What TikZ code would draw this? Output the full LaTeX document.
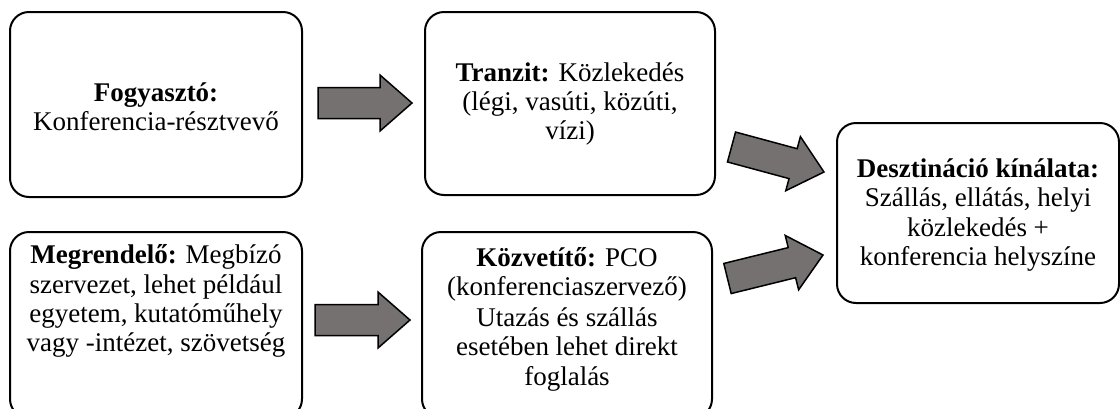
\documentclass[tikz,border=0pt]{standalone}
\usepackage{fontspec}
\setmainfont{Liberation Serif}
\usetikzlibrary{calc}
\definecolor{arrowgray}{HTML}{767171}
\tikzset{
  box/.style={draw=black, line width=2pt, rounded corners=19pt, inner sep=0pt},
  boxtext/.style={align=center, font=\fontsize{27}{29.2}\selectfont, inner sep=0pt},
  blockarrow/.style={draw=black, line width=1.5pt, fill=arrowgray, line join=miter},
}
% block arrow from tail point #1 to tip point #2
\newcommand\blockarrow[2]{%
  \coordinate (ba-base) at ($(#2)!32pt!(#1)$);
  \draw[blockarrow]
    ($(#1)!15.5pt!90:(#2)$) -- ($(ba-base)!15.5pt!90:(#2)$) --
    ($(ba-base)!28pt!90:(#2)$) -- (#2) --
    ($(ba-base)!28pt!-90:(#2)$) -- ($(ba-base)!15.5pt!-90:(#2)$) --
    ($(#1)!15.5pt!-90:(#2)$) -- cycle;
}
\begin{document}
\begin{tikzpicture}[x=1pt, y=-1pt]
  \useasboundingbox (0,0) rectangle (1120,408);
  \clip (0,0) rectangle (1120,408);

  % boxes
  \node[box, minimum width=292pt, minimum height=185pt] (fogy) at (156,104.5) {};
  \node[box, minimum width=290pt, minimum height=183pt] (tranzit) at (570,103.5) {};
  \node[box, minimum width=282pt, minimum height=180pt] (deszt) at (978,213) {};
  \node[box, minimum width=292pt, minimum height=186pt] (megr) at (156,325) {};
  \node[box, minimum width=290pt, minimum height=186pt] (kozv) at (567,325) {};

  % texts
  \node[boxtext] (fogy-t) at (156,107) {\textbf{Fogyasztó:}\\Konferencia-résztvevő};
  \node[boxtext] (tranzit-t) at (570,104) {\textbf{Tranzit:} Közlekedés\\(légi, vasúti, közúti,\\vízi)};
  \node[boxtext] (deszt-t) at (978,215) {\textbf{Desztináció kínálata:}\\Szállás, ellátás, helyi\\közlekedés +\\konferencia helyszíne};
  \node[boxtext] (megr-t) at (156,301) {\textbf{Megrendelő:} Megbízó\\szervezet, lehet például\\egyetem, kutatóműhely\\vagy -intézet, szövetség};
  \node[boxtext] (kozv-t) at (567,319) {\textbf{Közvetítő:} PCO\\(konferenciaszervező)\\[2pt]Utazás és szállás\\esetében lehet direkt\\foglalás};

  % arrow end points
  \coordinate (a1-tail) at (318,103);
  \coordinate (a1-tip) at (412,103);
  \coordinate (a2-tail) at (315,320);
  \coordinate (a2-tip) at (410,320);
  \coordinate (a3-tail) at (731.5,147);
  \coordinate (a3-tip) at (824,172);
  \coordinate (a4-tail) at (727.5,278.5);
  \coordinate (a4-tip) at (823,255);

  \blockarrow{a1-tail}{a1-tip}
  \blockarrow{a2-tail}{a2-tip}
  \blockarrow{a3-tail}{a3-tip}
  \blockarrow{a4-tail}{a4-tip}
\end{tikzpicture}
\end{document}
